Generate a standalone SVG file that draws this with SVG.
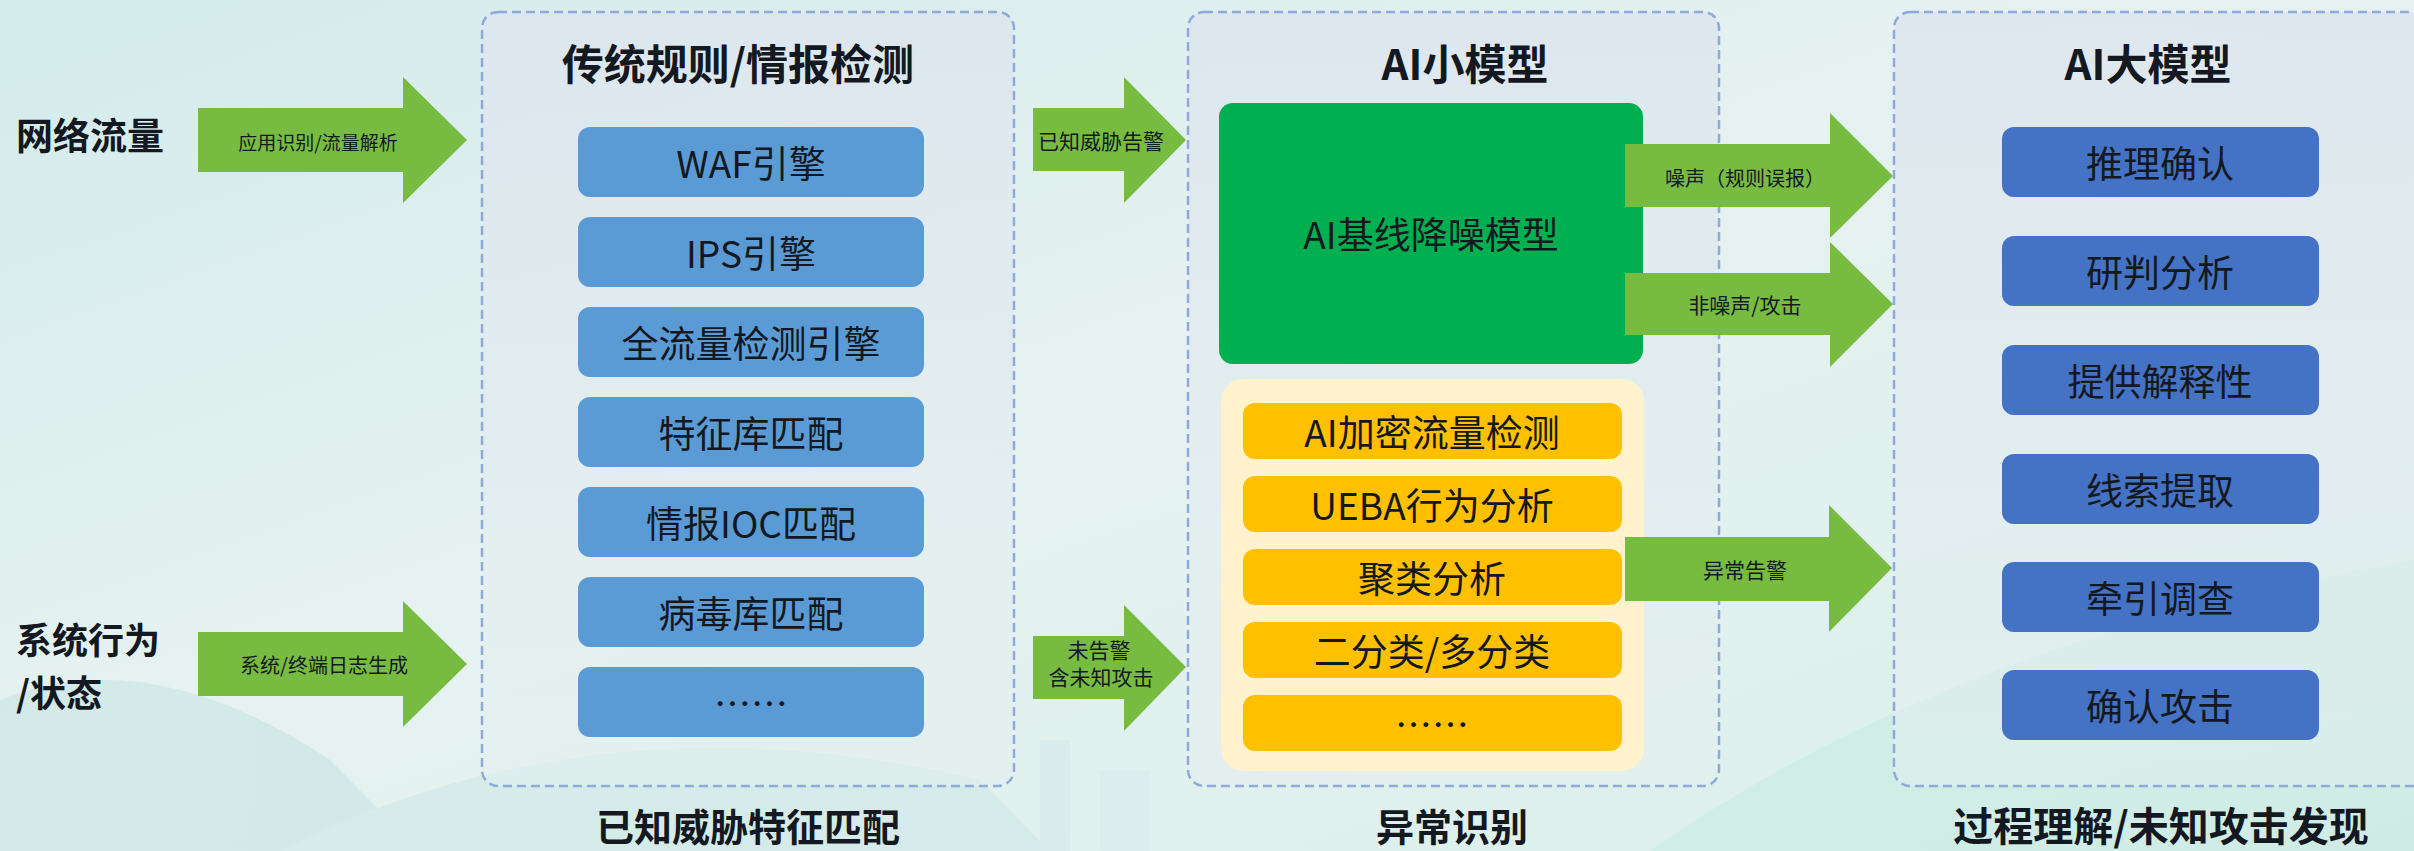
<svg xmlns="http://www.w3.org/2000/svg" width="2414" height="851" viewBox="0 0 2414 851">
<defs>
<linearGradient id="bg" x1="0" y1="0" x2="1" y2="1">
<stop offset="0" stop-color="#d3ebeb"/>
<stop offset="0.45" stop-color="#e6f2f1"/>
<stop offset="1" stop-color="#d9efea"/>
</linearGradient>
<linearGradient id="panel" x1="0" y1="0" x2="0" y2="1">
<stop offset="0" stop-color="#dde5ee" stop-opacity="0.85"/>
<stop offset="1" stop-color="#e6eff0" stop-opacity="0.45"/>
</linearGradient>
<style>
.panel{fill:url(#panel);stroke:#8eaadc;stroke-width:2.5;stroke-dasharray:9 5}
.arrow{fill:#77bc41}
.blue1{fill:#5b9bd5}
.blue2{fill:#4472c4}
.yel{fill:#ffc000}
.t{font-family:"Noto Sans CJK SC","Liberation Sans",sans-serif;fill:#141821}
.title{font-weight:700;font-size:42px;text-anchor:middle}
.foot{font-weight:700;font-size:38px;text-anchor:middle}
.side{font-weight:700;font-size:37px}
.box{font-size:37px;text-anchor:middle;dominant-baseline:central}
.lab{font-size:21px;text-anchor:middle;dominant-baseline:central}
</style>
</defs>
<rect width="2414" height="851" fill="url(#bg)"/>
<g id="background" opacity="0.4">
<path d="M0 700 Q150 640 330 760 L420 851 L0 851 Z" fill="#b9dedd"/>
<path d="M280 851 Q600 690 980 780 L1050 851 Z" fill="#c3e3e2"/>
<path d="M1650 851 Q1950 640 2414 560 L2414 851 Z" fill="#bfe8de"/>
<rect x="1040" y="740" width="30" height="111" fill="#d2e8eb"/>
<rect x="1100" y="770" width="50" height="81" fill="#d6e9ec"/>
</g>
<g id="panel-traditional">
<rect class="panel" x="482" y="12" width="532" height="774" rx="16"/>
<text class="t title" x="738" y="80">传统规则/情报检测</text>
<text class="t foot" x="748" y="841">已知威胁特征匹配</text>
</g>
<g id="panel-small">
<rect class="panel" x="1188" y="12" width="531" height="774" rx="16"/>
<text class="t title" x="1465" y="80">AI小模型</text>
<text class="t foot" x="1452" y="841">异常识别</text>
</g>
<g id="panel-large">
<rect class="panel" x="1894" y="12" width="560" height="774" rx="16"/>
<text class="t title" x="2148" y="80">AI大模型</text>
<text class="t foot" x="2161" y="841" style="font-size:40px">过程理解/未知攻击发现</text>
</g>
<g id="src-network"><text class="t side" x="16" y="150">网络流量</text></g>
<g id="src-system">
<text class="t side" x="16" y="654" style="font-size:36px">系统行为<tspan x="16" y="707">/状态</tspan></text>
</g>
<g id="n-waf"><rect class="blue1" x="578" y="127" width="346" height="70" rx="12"/><text class="t box" x="751" y="162">WAF引擎</text></g>
<g id="n-ips"><rect class="blue1" x="578" y="217" width="346" height="70" rx="12"/><text class="t box" x="751" y="252">IPS引擎</text></g>
<g id="n-full"><rect class="blue1" x="578" y="307" width="346" height="70" rx="12"/><text class="t box" x="751" y="342">全流量检测引擎</text></g>
<g id="n-sig"><rect class="blue1" x="578" y="397" width="346" height="70" rx="12"/><text class="t box" x="751" y="432">特征库匹配</text></g>
<g id="n-ioc"><rect class="blue1" x="578" y="487" width="346" height="70" rx="12"/><text class="t box" x="751" y="522">情报IOC匹配</text></g>
<g id="n-virus"><rect class="blue1" x="578" y="577" width="346" height="70" rx="12"/><text class="t box" x="751" y="612">病毒库匹配</text></g>
<g id="n-more1"><rect class="blue1" x="578" y="667" width="346" height="70" rx="12"/><text class="t box" x="751" y="702">……</text></g>
<g id="n-denoise"><rect x="1219" y="103" width="424" height="261" rx="14" fill="#00b050"/><text class="t box" x="1431" y="233">AI基线降噪模型</text></g>
<g id="n-anomaly">
<rect x="1221" y="379" width="423" height="392" rx="22" fill="#fff2cc"/>
<rect class="yel" x="1243" y="403" width="379" height="56" rx="12"/><text class="t box" x="1432" y="431">AI加密流量检测</text>
<rect class="yel" x="1243" y="476" width="379" height="56" rx="12"/><text class="t box" x="1432" y="504">UEBA行为分析</text>
<rect class="yel" x="1243" y="549" width="379" height="56" rx="12"/><text class="t box" x="1432" y="577">聚类分析</text>
<rect class="yel" x="1243" y="622" width="379" height="56" rx="12"/><text class="t box" x="1432" y="650">二分类/多分类</text>
<rect class="yel" x="1243" y="695" width="379" height="56" rx="12"/><text class="t box" x="1432" y="723">……</text>
</g>
<g id="n-reason"><rect class="blue2" x="2002" y="127" width="317" height="70" rx="12"/><text class="t box" x="2160" y="162">推理确认</text></g>
<g id="n-judge"><rect class="blue2" x="2002" y="236" width="317" height="70" rx="12"/><text class="t box" x="2160" y="271">研判分析</text></g>
<g id="n-explain"><rect class="blue2" x="2002" y="345" width="317" height="70" rx="12"/><text class="t box" x="2160" y="380">提供解释性</text></g>
<g id="n-clue"><rect class="blue2" x="2002" y="454" width="317" height="70" rx="12"/><text class="t box" x="2160" y="489">线索提取</text></g>
<g id="n-trace"><rect class="blue2" x="2002" y="562" width="317" height="70" rx="12"/><text class="t box" x="2160" y="597">牵引调查</text></g>
<g id="n-confirm"><rect class="blue2" x="2002" y="670" width="317" height="70" rx="12"/><text class="t box" x="2160" y="705">确认攻击</text></g>
<g id="connectors">
<polygon class="arrow" points="198,108 403,108 403,77 467,140 403,203 403,172 198,172"/>
<text class="t lab" x="318" y="141" style="font-size:19px">应用识别/流量解析</text>
<polygon class="arrow" points="198,632 403,632 403,601 467,664 403,727 403,696 198,696"/>
<text class="t lab" x="324" y="664" style="font-size:20px">系统/终端日志生成</text>
<polygon class="arrow" points="1033,108 1124,108 1124,77 1186,140 1124,203 1124,171 1033,171"/>
<text class="t lab" x="1101" y="140">已知威胁告警</text>
<polygon class="arrow" points="1033,636 1124,636 1124,605 1186,667 1124,731 1124,699 1033,699"/>
<text class="t lab" x="1099" y="649">未告警<tspan x="1101" y="676">含未知攻击</tspan></text>
<polygon class="arrow" points="1625,144 1830,144 1830,113 1893,176 1830,238 1830,207 1625,207"/>
<text class="t lab" x="1745" y="177" style="font-size:20px">噪声（规则误报）</text>
<polygon class="arrow" points="1625,273 1830,273 1830,242 1893,304 1830,367 1830,335 1625,335"/>
<text class="t lab" x="1745" y="304">非噪声/攻击</text>
<polygon class="arrow" points="1625,537 1829,537 1829,505 1892,568 1829,632 1829,601 1625,601"/>
<text class="t lab" x="1745" y="569">异常告警</text>
</g>
</svg>
